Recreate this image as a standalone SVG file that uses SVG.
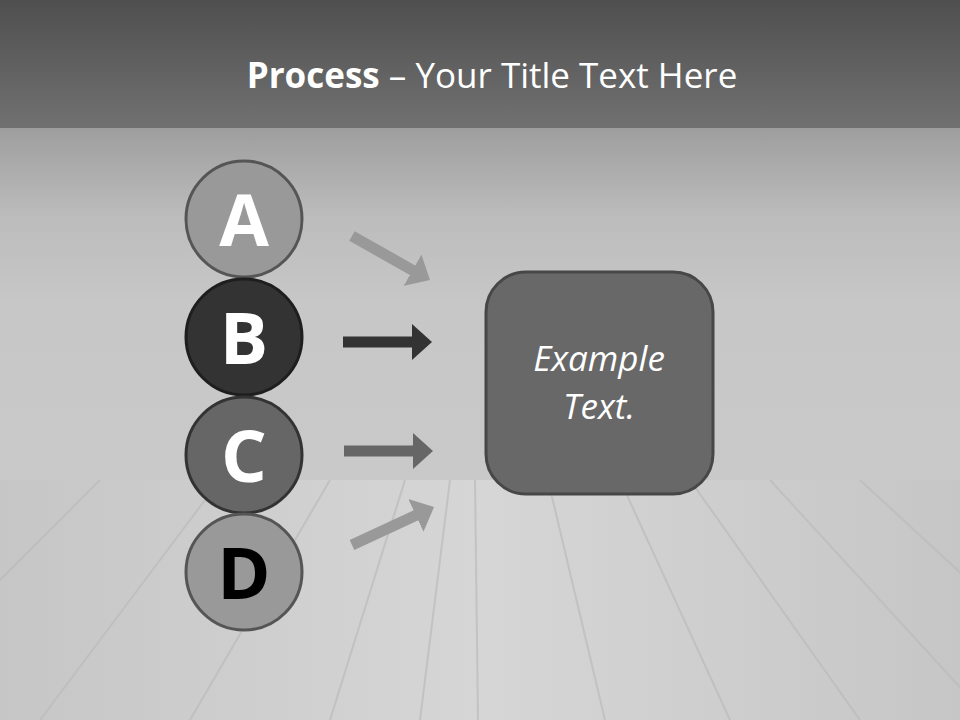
<svg xmlns="http://www.w3.org/2000/svg" width="960" height="720" viewBox="0 0 960 720">
<defs>
<linearGradient id="top" x1="0" y1="0" x2="0" y2="1">
<stop offset="0" stop-color="#4f4f4f"/>
<stop offset="1" stop-color="#717171"/>
</linearGradient>
<linearGradient id="wall" x1="0" y1="0" x2="0" y2="1">
<stop offset="0" stop-color="#9e9e9e"/>
<stop offset="0.25" stop-color="#bcbcbc"/>
<stop offset="0.5" stop-color="#c7c7c7"/>
<stop offset="1" stop-color="#c9c9c9"/>
</linearGradient>
<linearGradient id="floor" x1="0" y1="0" x2="1" y2="0">
<stop offset="0" stop-color="#c6c6c6"/>
<stop offset="0.5" stop-color="#d6d6d6"/>
<stop offset="1" stop-color="#c6c6c6"/>
</linearGradient>
<marker id="ah" viewBox="0 0 20 36" refX="2" refY="18" markerWidth="20" markerHeight="36" orient="auto" markerUnits="userSpaceOnUse">
<path d="M0,0 L20,18 L0,36 Z" fill="context-stroke"/>
</marker>
<style>
.circ{stroke-width:3}
.lt{font-family:"Open Sans","DejaVu Sans",sans-serif;font-weight:bold;font-size:72px;text-anchor:middle}
.arr{stroke-width:11;fill:none}
.fl{stroke:#bababa;stroke-width:2;fill:none;opacity:0.7}
.bt{font-family:"Open Sans","DejaVu Sans",sans-serif;font-style:italic;font-size:35px;fill:#ffffff;text-anchor:middle}
</style>
</defs>
<rect x="0" y="0" width="960" height="128" fill="url(#top)"/>
<rect x="0" y="128" width="960" height="352" fill="url(#wall)"/>
<rect x="0" y="480" width="960" height="240" fill="url(#floor)"/>
<g id="floorlines">
<line class="fl" x1="100" y1="480" x2="-140" y2="720"/>
<line class="fl" x1="220" y1="480" x2="40" y2="720"/>
<line class="fl" x1="330" y1="480" x2="190" y2="720"/>
<line class="fl" x1="405" y1="480" x2="330" y2="720"/>
<line class="fl" x1="450" y1="480" x2="420" y2="720"/>
<line class="fl" x1="475" y1="480" x2="478" y2="720"/>
<line class="fl" x1="548" y1="480" x2="605" y2="720"/>
<line class="fl" x1="620" y1="480" x2="730" y2="720"/>
<line class="fl" x1="690" y1="480" x2="860" y2="720"/>
<line class="fl" x1="770" y1="480" x2="990" y2="720"/>
<line class="fl" x1="860" y1="480" x2="1120" y2="720"/>
</g>
<text x="492" y="88" font-family="'Open Sans','DejaVu Sans',sans-serif" font-size="35" fill="#ffffff" text-anchor="middle"><tspan font-weight="bold">Process</tspan> – Your Title Text Here</text>
<g id="connectors">
<line class="arr" x1="352" y1="236" x2="414.3" y2="271.2" stroke="#999999" marker-end="url(#ah)"/>
<line class="arr" x1="343" y1="342" x2="414" y2="342" stroke="#333333" marker-end="url(#ah)"/>
<line class="arr" x1="344" y1="451" x2="415" y2="451" stroke="#666666" marker-end="url(#ah)"/>
<line class="arr" x1="352" y1="545" x2="417.7" y2="514.6" stroke="#999999" marker-end="url(#ah)"/>
</g>
<g id="nodeA">
<circle class="circ" cx="244" cy="219" r="58" fill="#999999" stroke="#555555"/>
<text class="lt" x="244" y="246" fill="#ffffff">A</text>
</g>
<g id="nodeB">
<circle class="circ" cx="244" cy="337" r="58" fill="#333333" stroke="#1e1e1e"/>
<text class="lt" x="244" y="364" fill="#ffffff">B</text>
</g>
<g id="nodeC">
<circle class="circ" cx="244" cy="455" r="58" fill="#666666" stroke="#333333"/>
<text class="lt" x="244" y="482" fill="#ffffff">C</text>
</g>
<g id="nodeD">
<circle class="circ" cx="244" cy="572" r="58" fill="#999999" stroke="#555555"/>
<text class="lt" x="244" y="599" fill="#000000">D</text>
</g>
<g id="box">
<rect x="486" y="272" width="227" height="222" rx="40" ry="40" fill="#686868" stroke="#474747" stroke-width="3"/>
<text class="bt" x="599" y="371">Example</text>
<text class="bt" x="599" y="419">Text.</text>
</g>
</svg>
